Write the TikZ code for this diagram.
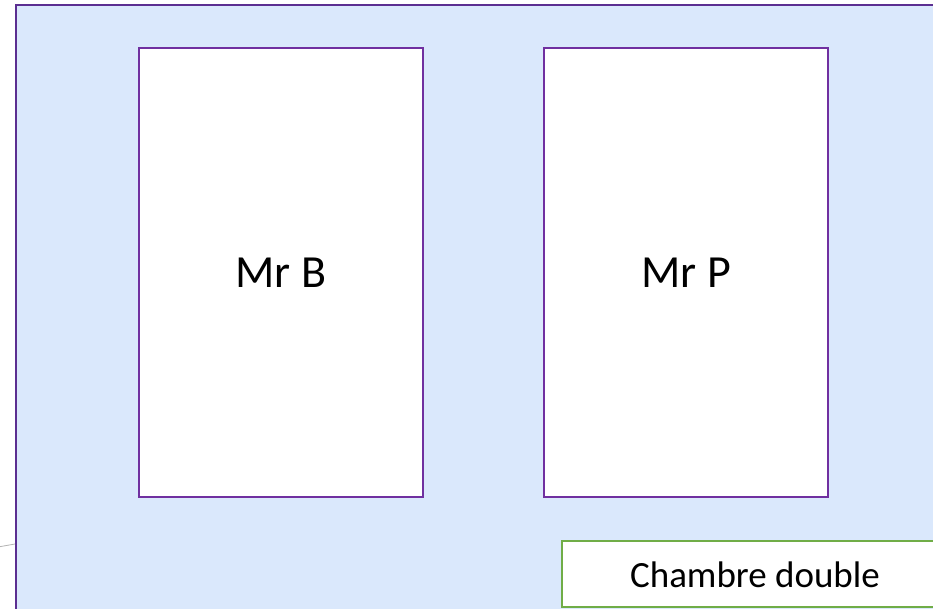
\documentclass[tikz,border=0pt]{standalone}
\usepackage{fontspec}
\setmainfont{Carlito}
\definecolor{roomfill}{HTML}{DAE8FC}
\definecolor{outerline}{HTML}{5B2E91}
\definecolor{bedline}{HTML}{7030A0}
\definecolor{labelline}{HTML}{70AD47}
\tikzset{
  bedbox/.style={draw=bedline, line width=2.4pt, fill=white, minimum width=284pt, minimum height=449pt, inner sep=0pt, font=\fontsize{46}{52}\selectfont},
  roombox/.style={draw=outerline, line width=2.5pt, fill=roomfill},
  tagbox/.style={draw=labelline, line width=2.2pt, fill=white, inner sep=0pt}
}
\begin{document}
\begin{tikzpicture}[x=1pt,y=-1pt]
\useasboundingbox (0,0) rectangle (933,609);
\clip (0,0) rectangle (933,609);
\draw[roombox] (16,5) rectangle (945,620);
\node[bedbox] (mrb) at (281,272.5) {Mr B};
\node[bedbox] (mrp) at (686,272.5) {Mr P};
\draw[tagbox] (562,541) rectangle (945,607);
\node[font=\fontsize{37}{42}\selectfont] (tag) at (755,575) {Chambre double};
\coordinate (stubA) at (-2,547);
\coordinate (stubB) at (15,544);
\draw[gray!60, line width=0.8pt] (stubA) -- (stubB);
\end{tikzpicture}
\end{document}
